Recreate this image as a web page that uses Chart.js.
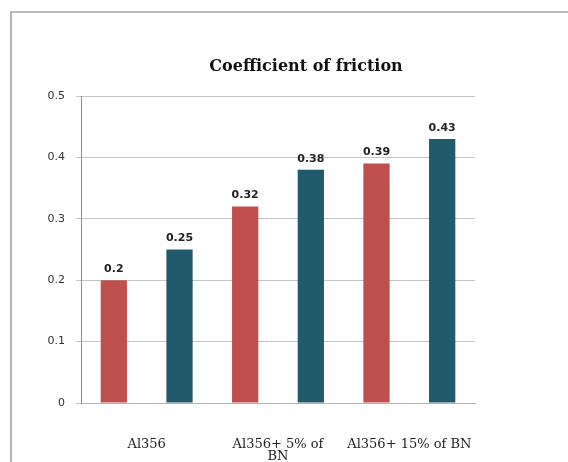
<!DOCTYPE html>
<html>
<head>
<meta charset="utf-8">
<script src="https://cdn.jsdelivr.net/npm/chart.js@4.4.1/dist/chart.umd.min.js"></script>
<style>
  html, body { margin: 0; padding: 0; background: #ffffff; }
  #wrap { position: relative; width: 568px; height: 462px; overflow: hidden; }
  #frame {
    position: absolute; left: 10px; top: 11px; width: 600px; height: 500px;
    border-left: 2px solid #b5b5b5; border-top: 2px solid #bdbdbd;
    box-sizing: border-box;
  }
  #c { position: absolute; left: 0; top: 0; }
</style>
</head>
<body>
<div id="wrap">
  <div id="frame"></div>
  <canvas id="c" width="568" height="462"></canvas>
</div>
<script>
// Category labels (multi-line where the text wraps under the group)
const categories = [["Al356"], ["Al356+ 5% of", "BN"], ["Al356+ 15% of BN"]];
// Two bars per material
const seriesA = [0.2, 0.32, 0.39];
const seriesB = [0.25, 0.38, 0.43];
const yTicks = [0, 0.1, 0.2, 0.3, 0.4, 0.5];
const chartTitle = 'Coefficient of friction';

const RED = '#c0504d';
const TEAL = '#215a6a';

// Writes each bar's value just above it
const valueLabels = {
  id: 'valueLabels',
  afterDatasetsDraw(chart) {
    const ctx = chart.ctx;
    ctx.save();
    ctx.font = 'bold 11px "DejaVu Sans", sans-serif';
    ctx.fillStyle = '#222222';
    ctx.textAlign = 'center';
    ctx.textBaseline = 'middle';
    chart.data.datasets.forEach((ds, i) => {
      chart.getDatasetMeta(i).data.forEach((bar, j) => {
        ctx.fillText(String(ds.data[j]), bar.x, bar.y - 11);
      });
    });
    ctx.restore();
  }
};

// Title sits a little right of the plot centre, above the top gridline
const titleText = {
  id: 'titleText',
  afterDraw(chart) {
    const ctx = chart.ctx;
    const a = chart.chartArea;
    ctx.save();
    ctx.font = 'bold 16px "DejaVu Serif", serif';
    ctx.fillStyle = '#111111';
    ctx.textAlign = 'center';
    ctx.textBaseline = 'middle';
    ctx.fillText(chartTitle, (a.left + a.right) / 2 + 28, a.top - 29);
    ctx.restore();
  }
};

new Chart(document.getElementById('c'), {
  type: 'bar',
  data: {
    labels: categories,
    datasets: [
      { label: 'A', data: seriesA, backgroundColor: RED },
      { label: 'B', data: seriesB, backgroundColor: TEAL }
    ]
  },
  options: {
    responsive: false,
    animation: false,
    devicePixelRatio: 1,
    layout: { padding: { left: 0, right: 93, top: 96, bottom: 0 } },
    datasets: { bar: { categoryPercentage: 1.0, barPercentage: 0.4 } },
    plugins: {
      legend: { display: false },
      tooltip: { enabled: false },
      title: { display: false }
    },
    scales: {
      x: {
        grid: { display: false, drawTicks: false },
        border: { display: true, color: '#b3b3b3', width: 1 },
        ticks: {
          color: '#222222',
          padding: 35,
          maxRotation: 0,
          autoSkip: false,
          font: { family: '"DejaVu Serif", serif', size: 13, lineHeight: 0.95 }
        },
        afterFit(scale) { scale.height = 59; }
      },
      y: {
        min: 0,
        max: 0.5,
        afterBuildTicks(scale) { scale.ticks = yTicks.map(v => ({ value: v })); },
        grid: { color: '#c4c4c4', tickLength: 5, drawTicks: true },
        border: { display: true, color: '#8c8c8c', width: 1 },
        ticks: {
          color: '#333333',
          padding: 11,
          font: { family: '"DejaVu Sans", sans-serif', size: 11 },
          callback: (v) => String(v)
        },
        afterFit(scale) { scale.width = 81; }
      }
    }
  },
  plugins: [valueLabels, titleText]
});
</script>
</body>
</html>
